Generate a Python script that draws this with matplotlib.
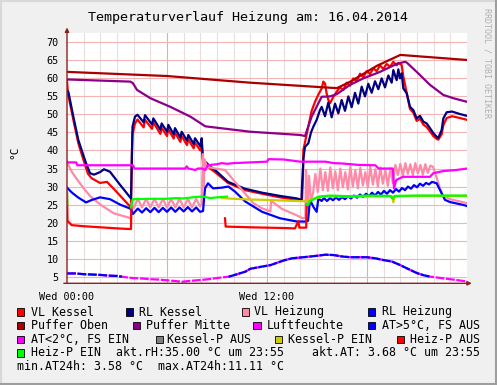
import numpy as np
import matplotlib
matplotlib.use('Agg')
import matplotlib.pyplot as plt
from matplotlib.patches import Rectangle
from matplotlib.lines import Line2D

# ---- data (hours since 00:00, deg C) ----
vlk_h = [0, 0.05, 0.38, 0.68, 0.98, 1.26, 1.48, 1.98, 2.40, 2.88, 3.84, 3.90, 3.93, 4.08, 4.23,
         4.60, 4.68, 5.10, 5.18, 5.60, 5.68, 6.00, 6.08, 6.40, 6.48, 6.80, 6.88, 7.20, 7.28, 7.60,
         7.68, 8.00, 8.08, 8.16, 8.28, 8.58, 8.88, 9.66, 10.68, 11.70, 12.78, 13.80, 14.10, 14.16,
         14.18, 14.38, 14.68, 14.88, 15.08, 15.28, 15.38, 15.48, 15.57, 15.68, 15.78, 15.98, 16.18,
         16.38, 16.58, 16.78, 16.98, 17.18, 17.38, 17.58, 17.78, 17.98, 18.18, 18.38, 18.58, 18.78,
         18.98, 19.18, 19.38, 19.58, 19.78, 19.88, 20.08, 20.18, 20.38, 20.58, 20.78, 20.98, 21.18,
         21.38, 21.58, 21.78, 21.98, 22.18, 22.28, 22.48, 22.58, 22.78, 23.10, 23.58, 24.0]
vlk_v = [59.5, 56.0, 48.5, 42.0, 37.5, 33.5, 32.3, 31.0, 31.3, 29.0, 24.2, 40.0, 44.5, 47.5, 48.6,
         46.4, 48.5, 46.0, 47.8, 44.6, 46.3, 44.0, 45.9, 43.3, 45.0, 42.4, 44.0, 41.5, 43.1, 40.6,
         42.2, 40.0, 42.0, 36.5, 36.4, 35.0, 34.0, 31.0, 29.0, 28.0, 27.0, 26.3, 26.0, 33.0,
         40.1, 44.5, 51.0, 53.5, 55.5, 57.2, 59.1, 58.6, 56.0, 54.0, 53.1, 54.9, 56.3,
         57.5, 56.8, 58.8, 58.0, 60.0, 59.2, 61.3, 60.3, 62.0, 61.2, 62.8, 62.0, 63.6,
         62.6, 64.0, 63.2, 64.6, 63.6, 64.3, 63.7, 60.5, 56.0, 51.5, 50.5, 48.2, 48.8,
         47.2, 46.5, 45.3, 44.0, 43.2, 43.0, 44.5, 47.0, 49.0, 49.5, 49.0, 48.5]

rlk_h = [0, 0.08, 0.38, 0.68, 0.98, 1.14, 1.38, 1.62, 1.98, 2.22, 2.58, 3.18, 3.84, 3.90, 3.93,
         4.08, 4.23, 4.60, 4.68, 5.10, 5.18, 5.60, 5.68, 6.00, 6.08, 6.40, 6.48, 6.80, 6.88, 7.20,
         7.28, 7.60, 7.68, 8.00, 8.08, 8.16, 8.28, 8.58, 8.88, 9.66, 10.68, 11.70, 12.78, 13.80,
         14.07, 14.10, 14.19, 14.28, 14.48, 14.64, 14.78, 14.98, 15.18, 15.28, 15.48, 15.68, 15.88,
         16.08, 16.28, 16.48, 16.68, 16.88, 17.08, 17.28, 17.48, 17.68, 17.88, 18.08, 18.28, 18.48,
         18.68, 18.88, 19.08, 19.28, 19.48, 19.58, 19.78, 19.88, 19.98, 20.08, 20.18, 20.38, 20.58,
         20.78, 20.98, 21.18, 21.38, 21.58, 21.78, 21.98, 22.18, 22.28, 22.48, 22.58, 22.78, 23.10,
         23.58, 24.0]
rlk_v = [56.6, 56.3, 49.4, 42.9, 38.7, 36.5, 33.7, 33.3, 34.0, 34.8, 34.1, 30.5, 26.7, 40.0, 46.6,
         49.4, 49.9, 47.8, 49.8, 47.2, 48.9, 45.8, 47.5, 45.2, 47.1, 44.5, 46.2, 43.6, 45.2, 42.7,
         44.3, 41.8, 43.4, 41.2, 43.4, 37.5, 37.0, 35.6, 34.6, 31.3, 29.4, 28.3, 27.4, 26.7,
         26.3, 30.0, 38.0, 41.0, 42.0, 45.0, 46.6, 48.5, 51.2, 52.1, 49.5, 53.3, 49.2,
         53.0, 50.3, 54.0, 51.0, 55.0, 52.0, 56.0, 53.0, 57.7, 55.0, 58.5, 56.0, 59.2,
         57.0, 60.0, 57.5, 60.8, 58.8, 62.3, 59.5, 62.5, 60.0, 61.4, 57.2, 55.9, 52.1,
         51.2, 48.9, 49.6, 48.0, 47.5, 46.2, 44.8, 43.8, 43.5, 45.7, 48.9, 50.6, 50.8,
         50.1, 49.6]

vlh_h = [0, 0.08, 0.3, 0.6, 1.0, 1.4, 2.0, 2.8, 3.84, 3.88, 4.00, 4.25, 4.50, 4.75, 5.00, 5.25,
         5.50, 5.75, 6.00, 6.25, 6.50, 6.75, 7.00, 7.25, 7.50, 7.75, 7.98, 8.08, 8.16, 8.20, 8.26,
         8.40, 8.88, 9.48, 10.08, 10.68, 11.18, 11.68, 12.20, 12.25, 12.90, 13.70, 14.10, 14.30,
         14.34, 14.43, 14.52, 14.64, 14.76, 14.90, 15.05, 15.20, 15.35, 15.50, 15.65, 15.80, 15.95,
         16.10, 16.25, 16.40, 16.55, 16.70, 16.85, 17.00, 17.15, 17.30, 17.45, 17.60, 17.75, 17.90,
         18.05, 18.20, 18.35, 18.50, 18.65, 18.80, 18.95, 19.10, 19.25, 19.40, 19.55, 19.70, 19.85,
         20.00, 20.15, 20.30, 20.45, 20.60, 20.75, 20.90, 21.05, 21.20, 21.35, 21.50, 21.65, 21.80,
         21.96, 22.14, 22.38, 22.56, 22.98, 24.0]
vlh_v = [37.0, 36.0, 34.0, 32.0, 29.5, 27.3, 25.0, 22.6, 21.2, 25.5, 24.0, 26.6, 24.2, 26.6, 24.2, 26.6,
         24.2, 26.6, 24.2, 26.6, 24.2, 26.6, 24.2, 26.6, 24.2, 26.6, 24.5, 25.0, 39.0, 30.0, 37.5,
         35.5, 35.0, 34.6, 31.3, 28.1, 25.4, 24.0, 23.1, 26.0, 23.8, 22.2, 21.3, 21.2,
         34.6, 24.0, 33.0, 26.0, 28.1, 33.5, 28.5, 35.0, 29.0, 34.0, 28.8, 35.3, 29.5,
         34.2, 29.0, 35.0, 29.8, 34.0, 29.2, 35.5, 30.0, 34.5, 29.5, 35.2, 30.3, 34.0,
         29.8, 35.5, 30.5, 34.8, 30.0, 35.3, 30.8, 34.5, 30.2, 35.0, 31.0, 36.0, 33.2,
         36.3, 33.0, 36.5, 33.5, 36.2, 33.2, 36.5, 33.6, 36.0, 33.3, 36.2, 33.8, 35.8,
         35.5, 33.0, 29.5, 27.5, 26.5, 25.4]

rlh_h = [0, 0.3, 0.66, 1.14, 1.5, 1.98, 2.58, 3.18, 3.84, 3.96, 4.25, 4.50, 4.75, 5.00, 5.25,
         5.50, 5.75, 6.00, 6.25, 6.50, 6.75, 7.00, 7.25, 7.50, 7.75, 7.98, 8.16, 8.28, 8.46, 8.76,
         9.30, 9.68, 10.08, 10.68, 11.70, 12.78, 13.80, 14.34, 14.46, 14.58, 14.78, 14.98, 15.08,
         15.28, 15.42, 15.60, 15.78, 15.96, 16.14, 16.32, 16.50, 16.68, 16.86, 17.04, 17.22, 17.40,
         17.58, 17.76, 17.94, 18.12, 18.30, 18.48, 18.66, 18.84, 19.02, 19.20, 19.38, 19.56, 19.74,
         19.92, 20.10, 20.28, 20.46, 20.64, 20.82, 21.00, 21.18, 21.36, 21.54, 21.72, 21.90, 22.18,
         22.48, 22.68, 22.98, 23.78, 24.0]
rlh_v = [29.7, 28.3, 27.0, 25.6, 26.3, 27.0, 26.5, 25.0, 23.8, 22.4, 23.9, 22.8, 24.0, 22.9, 24.1,
         22.9, 24.1, 23.0, 24.2, 23.0, 24.2, 23.1, 24.3, 23.1, 24.2, 23.0, 23.2, 29.5, 30.9, 29.5,
         29.7, 30.0, 28.6, 25.9, 23.0, 21.2, 20.3, 20.3, 20.5, 26.3, 24.4, 23.0, 26.7,
         26.0, 26.8, 26.0, 26.8, 26.2, 27.0, 26.3, 27.1, 26.5, 27.3, 26.7, 27.5, 26.9,
         27.8, 27.1, 28.0, 27.3, 28.3, 27.5, 28.5, 27.8, 28.8, 28.0, 29.0, 28.3, 29.3,
         28.6, 29.6, 29.0, 30.0, 29.4, 30.4, 29.8, 30.8, 30.2, 31.0, 30.6, 31.3, 30.9,
         28.1, 26.3, 25.7, 24.9, 24.6]

po_h = [0, 6.0, 11.0, 15.8, 16.2, 17.0, 18.6, 20.0, 24.0]
po_v = [61.8, 60.65, 58.8, 57.4, 57.3, 59.1, 63.5, 66.5, 65.1]

pm_h = [0, 3.8, 3.95, 4.2, 5.0, 6.2, 7.4, 8.0, 8.3, 11.0, 14.0, 14.28, 14.68, 15.28, 15.78,
        16.18, 16.98, 17.78, 18.78, 19.78, 20.28, 20.38, 20.98, 21.78, 22.58, 23.18, 24.0]
pm_v = [59.7, 59.1, 58.7, 56.8, 54.5, 52.1, 49.4, 47.6, 46.7, 45.2, 44.3, 44.0, 49.4, 54.9, 55.0,
        55.6, 58.2, 60.0, 61.8, 64.0, 64.6, 64.4, 61.8, 58.2, 55.4, 54.5, 53.5]

rh_h = [0, 0.55, 0.62, 3.95, 4.05, 7.10, 7.18, 7.28, 7.70, 7.85, 8.10, 8.30, 8.45, 9.0, 9.3, 9.6,
        10.0, 10.5, 11.0, 12.0, 12.1, 13.0, 13.5, 14.0, 15.5, 16.0, 16.5, 17.5, 18.5, 18.7, 19.55,
        19.62, 19.75, 20.15, 21.78, 21.98, 22.58, 23.38, 24.0]
rh_v = [36.7, 36.7, 35.9, 35.9, 35.0, 35.0, 35.6, 35.0, 34.6, 35.0, 35.0, 34.6, 35.9, 36.2, 36.5, 36.3,
        36.5, 36.6, 36.7, 36.9, 37.6, 37.5, 37.2, 36.9, 36.9, 36.5, 36.4, 36.0, 35.9, 35.0, 35.0,
        29.5, 31.8, 32.7, 32.7, 33.7, 34.3, 34.6, 35.0]

at_h = [0, 0.5, 1.0, 1.5, 2.0, 2.5, 3.0, 3.3, 3.6, 4.0, 4.5, 5.0, 5.5, 6.0, 6.5, 6.9, 7.3, 7.8,
        8.3, 8.8, 9.3, 9.7, 10.0, 10.7, 11.0, 11.7, 12.2, 13.0, 13.5, 14.4, 15.0, 15.5, 16.0,
        16.5, 17.0, 18.0, 18.5, 19.0, 19.5, 20.0, 20.4, 21.0, 21.4, 21.8, 22.5, 23.0, 23.5, 24.0]
at_v = [5.9, 5.9, 5.7, 5.6, 5.5, 5.3, 5.2, 5.0, 4.8, 4.6, 4.5, 4.3, 4.2, 4.0, 3.8, 3.6, 3.8, 4.0,
        4.2, 4.5, 4.8, 5.0, 5.4, 6.4, 7.2, 7.8, 8.2, 9.5, 10.1, 10.5, 10.8, 11.1, 11.0,
        10.6, 10.4, 10.4, 10.1, 9.6, 9.2, 8.2, 7.3, 6.0, 5.4, 5.0, 4.6, 4.3, 4.0, 3.68]

hp_off_h1 = [0, 0.03, 0.28, 1.0, 2.0, 3.0, 3.84, 3.86]
hp_off_v1 = [28.2, 20.5, 19.3, 19.0, 18.7, 18.4, 18.2, 24.2]
hp_off_h2 = [9.48, 9.52, 11.0, 12.0, 13.0, 13.68, 13.88, 13.94, 14.35, 14.38]
hp_off_v2 = [21.2, 18.9, 18.7, 18.6, 18.5, 18.4, 20.4, 18.6, 18.6, 25.0]

hp_on_h1 = [0, 0.02]
hp_on_v1 = [28.6, 24.9]
hp_on_h2 = [3.84, 3.95, 5.0, 6.0, 6.5, 7.0, 7.5, 8.0, 8.2, 8.6, 9.0, 9.3, 9.6]
hp_on_v2 = [24.2, 26.5, 26.6, 26.6, 26.8, 26.7, 27.0, 27.2, 27.2, 26.8, 27.0, 27.1, 27.2]
hp_on_h3 = [14.38, 14.46, 14.6, 15.08, 15.78, 17.0, 18.0, 19.4, 19.55, 19.65, 21.0, 22.0, 23.0, 24.0]
hp_on_v3 = [25.0, 24.9, 26.0, 27.2, 27.5, 27.3, 27.5, 27.4, 26.6, 27.4, 27.5, 27.5, 27.5, 27.5]

kp_on_h = [9.3, 10.0, 11.0, 12.0, 13.0, 13.8, 14.3, 14.5, 15.5, 17.0, 19.5, 19.58, 19.66, 21.0, 24.0]
kp_on_v = [26.8, 26.6, 26.4, 26.3, 26.1, 26.0, 25.9, 26.3, 27.3, 27.2, 27.3, 25.6, 27.3, 27.4, 27.4]

W, H = 497, 385
def fx(x):
    return x / W
def fy(y):
    return 1 - y / H

mono = 'DejaVu Sans Mono'
plt.rcParams['font.family'] = mono

fig = plt.figure(figsize=(W / 100, H / 100), dpi=100, facecolor='#F0F0F0')
ax = fig.add_axes([fx(67), fy(283.3), 400 / W, (283.3 - 32.5) / H])
ax.set_facecolor('white')
ax.set_xlim(0, 24)
ax.set_ylim(3.17, 72.72)

# grid
for hh in range(1, 24):
    if hh % 6:
        ax.axvline(hh, color='#E8DEDE', lw=0.8, zorder=0)
for hh in (6, 12, 18):
    ax.axvline(hh, color='#F2A6A6', lw=0.8, zorder=0)
for yy in range(5, 75, 5):
    ax.axhline(yy, color='#F2B4B4', lw=0.8, zorder=0)

lw = 1.6
ax.plot(vlk_h, vlk_v, color='#FF0000', lw=lw)
ax.plot(rlk_h, rlk_v, color='#000080', lw=lw)
ax.plot(vlh_h, vlh_v, color='#FF8AA8', lw=lw)
ax.plot(rlh_h, rlh_v, color='#0000FF', lw=lw)
ax.plot(po_h, po_v, color='#AA0000', lw=lw)
ax.plot(pm_h, pm_v, color='#8B008B', lw=lw)
ax.plot(rh_h, rh_v, color='#FF00FF', lw=lw)
at_v_arr = np.array(at_v)
ax.plot(at_h, at_v, color='#FF00FF', lw=lw, ls=(0, (4, 0.7)))
ax.plot(at_h, np.where(at_v_arr >= 4.95, at_v_arr, np.nan), color='#0000FF', lw=lw, ls=(0, (4, 0.7)))
ax.plot(kp_on_h, kp_on_v, color='#CCCC00', lw=lw)
ax.plot(hp_off_h1, hp_off_v1, color='#FF0000', lw=lw)
ax.plot(hp_off_h2, hp_off_v2, color='#FF0000', lw=lw)
ax.plot(hp_on_h1, hp_on_v1, color='#00FF00', lw=lw)
ax.plot(hp_on_h2, hp_on_v2, color='#00FF00', lw=lw)
ax.plot(hp_on_h3, hp_on_v3, color='#00FF00', lw=lw)

for s in ax.spines.values():
    s.set_visible(False)
ax.set_yticks(range(5, 75, 5))
ax.set_xticks([0, 12])
ax.set_xticklabels(['Wed 00:00', 'Wed 12:00'])
ax.tick_params(length=0, labelsize=7.3, colors='#000000')
ax.tick_params(axis='y', pad=6)
ax.tick_params(axis='x', pad=6)

axis_col = '#8C2020'
ax.annotate('', xy=(0, 1.02), xytext=(0, 0), xycoords='axes fraction',
            arrowprops=dict(arrowstyle='-|>', color=axis_col, lw=1.0, mutation_scale=6,
                            shrinkA=0, shrinkB=0), annotation_clip=False)
ax.annotate('', xy=(1.012, 0), xytext=(-0.008, 0), xycoords='axes fraction',
            arrowprops=dict(arrowstyle='-|>', color=axis_col, lw=1.0, mutation_scale=6,
                            shrinkA=0, shrinkB=0), annotation_clip=False)

fig.text(fx(248), fy(17), 'Temperaturverlauf Heizung am: 16.04.2014', ha='center', va='center',
         fontsize=9.6, family=mono)
fig.text(fx(14), fy(152), '°C', rotation=90, ha='center', va='center', fontsize=8, family=mono)
fig.text(fx(487), fy(63), 'RRDTOOL / TOBI OETIKER', rotation=270, ha='center', va='center',
         fontsize=6, family=mono, color='#B0B0B0')

# legend
legend = [
    (17, 31, 312, '#FF0000', 'VL Kessel'),
    (126, 139, 312, '#000080', 'RL Kessel'),
    (242, 254, 312, '#FF8AA8', 'VL Heizung'),
    (368, 382, 312, '#0000FF', 'RL Heizung'),
    (17, 31, 325.5, '#AA0000', 'Puffer Oben'),
    (132.5, 145.5, 325.5, '#8B008B', 'Puffer Mitte'),
    (253.5, 267, 325.5, '#FF00FF', 'Luftfeuchte'),
    (368, 382, 325.5, '#0000FF', 'AT>5°C, FS AUS'),
    (17, 31, 339.5, '#FF00FF', 'AT<2°C, FS EIN'),
    (155.5, 167, 339.5, '#808080', 'Kessel-P AUS'),
    (275, 288, 339.5, '#CCCC00', 'Kessel-P EIN'),
    (397, 410, 339.5, '#FF0000', 'Heiz-P AUS'),
    (17, 31, 353, '#00FF00', 'Heiz-P EIN'),
]
for bx, tx, cy, col, lab in legend:
    fig.patches.append(Rectangle((fx(bx), fy(cy + 3.7)), 7.3 / W, 7.3 / H, transform=fig.transFigure,
                                 facecolor=col, edgecolor='#000000', lw=0.6))
    fig.text(fx(tx), fy(cy), lab, ha='left', va='center', fontsize=8.4, family=mono)
fig.text(fx(115.7), fy(353), 'akt.rH:35.00 °C um 23:55', ha='left', va='center', fontsize=8.4, family=mono)
fig.text(fx(312.3), fy(353), 'akt.AT: 3.68 °C um 23:55', ha='left', va='center', fontsize=8.4, family=mono)
fig.text(fx(16.7), fy(367), 'min.AT24h: 3.58 °C', ha='left', va='center', fontsize=8.4, family=mono)
fig.text(fx(158.3), fy(367), 'max.AT24h:11.11 °C', ha='left', va='center', fontsize=8.4, family=mono)

# outer frame
fig.add_artist(Line2D([0, 1], [fy(0.5), fy(0.5)], color='#D8D8D8', lw=1.5, transform=fig.transFigure))
fig.add_artist(Line2D([fx(0.5), fx(0.5)], [0, 1], color='#D8D8D8', lw=1.5, transform=fig.transFigure))
fig.add_artist(Line2D([0, 1], [fy(384), fy(384)], color='#9E9E9E', lw=1.5, transform=fig.transFigure))
fig.add_artist(Line2D([fx(496), fx(496)], [0, 1], color='#9E9E9E', lw=1.5, transform=fig.transFigure))

fig.savefig('out.png', dpi=100, facecolor=fig.get_facecolor())
